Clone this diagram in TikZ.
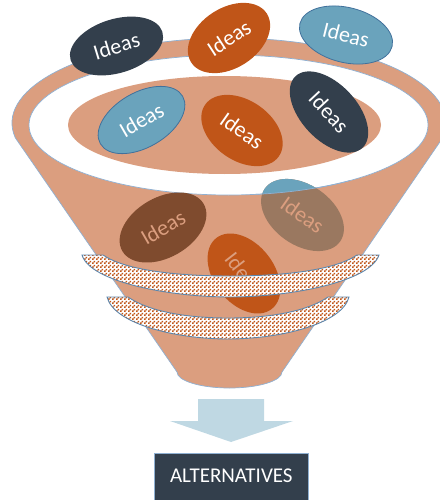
\documentclass[tikz,border=0pt]{standalone}
\usepackage{fontspec}
\setmainfont{Carlito}
\usetikzlibrary{shapes.geometric,patterns}
\definecolor{funnelc}{HTML}{DB9E7F}
\definecolor{edgec}{HTML}{8FB0D2}
\definecolor{darkc}{HTML}{333F4C}
\definecolor{orangec}{HTML}{C05518}
\definecolor{bluec}{HTML}{6AA3BC}
\definecolor{bluee}{HTML}{41719C}
\definecolor{brownc}{HTML}{7F4B2E}
\definecolor{greyc}{HTML}{9A7860}
\definecolor{arrowc}{HTML}{BFD8E3}
\pgfdeclarepatternformonly{banddots}{\pgfqpoint{0pt}{0pt}}{\pgfqpoint{4pt}{4pt}}{\pgfqpoint{4pt}{4pt}}{
  \pgfpathrectangle{\pgfqpoint{0pt}{0pt}}{\pgfqpoint{1.9pt}{1.9pt}}
  \pgfpathrectangle{\pgfqpoint{2pt}{2pt}}{\pgfqpoint{1.9pt}{1.9pt}}
  \pgfusepath{fill}
}
\tikzset{
  idea/.style={ellipse,inner sep=0pt,minimum width=#1,font=\fontsize{22}{26}\selectfont,text=white},
  darkidea/.style={idea=96pt,minimum height=54pt,fill=darkc},
  orangeidea/.style={idea=90pt,minimum height=60pt,fill=orangec},
  blueidea/.style={idea=95pt,minimum height=55pt,fill=bluec,draw=bluee,line width=0.8pt},
  bandc/.style={preaction={fill=white},pattern=banddots,pattern color=orangec,draw=bluee!85!white,line width=0.9pt},
  rim/.style={draw=edgec,line width=0.7pt}
}
\begin{document}
\begin{tikzpicture}[x=1pt,y=-1pt]
\useasboundingbox (0,0) rectangle (439,500);
% funnel
\path[fill=funnelc,rim] (15.3,137.8) arc[start angle=170,end angle=370,x radius=217,y radius=85]
  -- (282,372) arc[start angle=0,end angle=180,x radius=52.5,y radius=16] -- cycle;
\path[fill=white,rim] (228.5,125) ellipse[x radius=199.5,y radius=70];
\path[fill=funnelc] (224.5,125) ellipse[x radius=156.5,y radius=49];
% ideas above the funnel
\node[darkidea,rotate=17] (d1) at (116.5,46) {Ideas};
\node[orangeidea,rotate=33] (o1) at (229,38) {Ideas};
\node[blueidea,rotate=-14] (b1) at (346,35) {Ideas};
\node[blueidea,rotate=30] (b2) at (141.5,120) {Ideas};
\node[orangeidea,rotate=-35] (o2) at (242,130.5) {Ideas};
\node[darkidea,rotate=-47,minimum width=98pt,minimum height=56pt] (d2) at (329,112) {Ideas};
% ideas seen through the funnel
\node[idea=94pt,minimum height=60pt,rotate=30,fill=brownc,text=funnelc] (d3) at (163,227.5) {Ideas};
\node[idea=92pt,minimum height=60pt,rotate=-35,fill=greyc,text=funnelc] (b3) at (302.5,215) {Ideas};
\begin{scope}
  \clip (228.5,125) ellipse[x radius=199.5,y radius=70];
  \node[idea=92pt,minimum height=60pt,rotate=-35,fill=bluec] at (302.5,215) {};
\end{scope}
\begin{scope}
  \clip (255,170) rectangle (350,200);
  \draw[rim] (228.5,125) ellipse[x radius=199.5,y radius=70];
\end{scope}
\node[orangeidea,rotate=-52,minimum width=90pt,minimum height=60pt,text=funnelc] (o3) at (244,273.5) {Ideas};
% bands
\path[bandc] (82,255) -- (103,255) .. controls (125,270) and (175,276) .. (230,276)
  .. controls (285,276) and (335,270) .. (357,255) -- (379,255)
  .. controls (370,282) and (290,297) .. (230,297)
  .. controls (170,297) and (90,282) .. (82,255) -- cycle;
\path[bandc] (107,297) -- (128,297) .. controls (148,311) and (185,318) .. (228,318)
  .. controls (271,318) and (308,311) .. (328,297) -- (349,297)
  .. controls (342,324) and (280,339) .. (228,339)
  .. controls (176,339) and (114,324) .. (107,297) -- cycle;
% arrow and result
\coordinate (tip) at (231,442);
\path[fill=arrowc] (198,399) -- (264,399) -- (264,421) -- (293,421) -- (tip) -- (170,421) -- (198,421) -- cycle;
\node[draw=edgec,line width=0.7pt,fill=darkc,text=white,minimum width=154pt,minimum height=50pt,inner sep=0pt,anchor=north west,font=\fontsize{21}{24}\selectfont] (alt) at (154,453) {\raisebox{6pt}{ALTERNATIVES}};
\end{tikzpicture}
\end{document}
